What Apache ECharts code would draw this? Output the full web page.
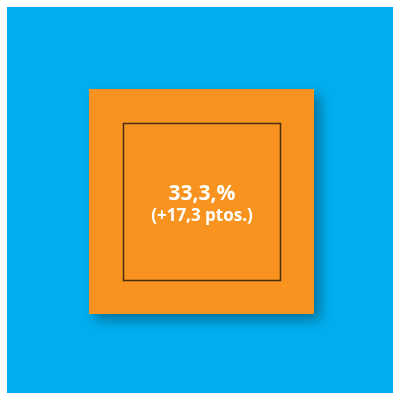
<!DOCTYPE html>
<html><head><meta charset="utf-8">
<script src="https://cdn.jsdelivr.net/npm/echarts@6/dist/echarts.min.js"></script>
<style>html,body{margin:0;padding:0;background:#fff;}#c{width:393px;height:393px;}</style>
</head><body><div id="c"></div>
<script>
const valueLabel = ['33,3,%'];
const changeLabel = ['(+17,3 ptos.)'];
const points = [[0.5, 0.5]];

const chart = echarts.init(document.getElementById('c'), null, {renderer: 'canvas'});
chart.setOption({
  animation: false,
  grid: {left: 7, top: 7, right: 0, bottom: 0, show: true, backgroundColor: '#00AEEF', borderWidth: 0},
  xAxis: {type: 'value', min: 0, max: 1, show: false},
  yAxis: {type: 'value', min: 0, max: 1, show: false},
  series: [
    {
      type: 'scatter', symbol: 'rect', symbolSize: 225, symbolOffset: [1.5, 1.5],
      data: points,
      itemStyle: {color: '#F7931E', opacity: 1, shadowColor: 'rgba(0,0,0,0.35)', shadowBlur: 12, shadowOffsetX: 6, shadowOffsetY: 6},
      silent: true
    },
    {
      type: 'scatter', symbol: 'rect', symbolSize: 157, symbolOffset: [2, 2],
      data: points,
      itemStyle: {color: 'rgba(0,0,0,0)', borderColor: '#4a2c10', borderWidth: 1.5, opacity: 1},
      label: {
        show: true, position: 'inside', offset: [0, 2],
        formatter: () => '{a|' + valueLabel[0] + '}\n{b|' + changeLabel[0] + '}',
        rich: {
          a: {fontFamily: 'Open Sans', fontWeight: 'bold', fontSize: 21, color: '#fff', lineHeight: 25},
          b: {fontFamily: 'Open Sans', fontWeight: 'bold', fontSize: 17, color: '#fff', lineHeight: 20}
        }
      },
      silent: true
    }
  ]
});
</script></body></html>
